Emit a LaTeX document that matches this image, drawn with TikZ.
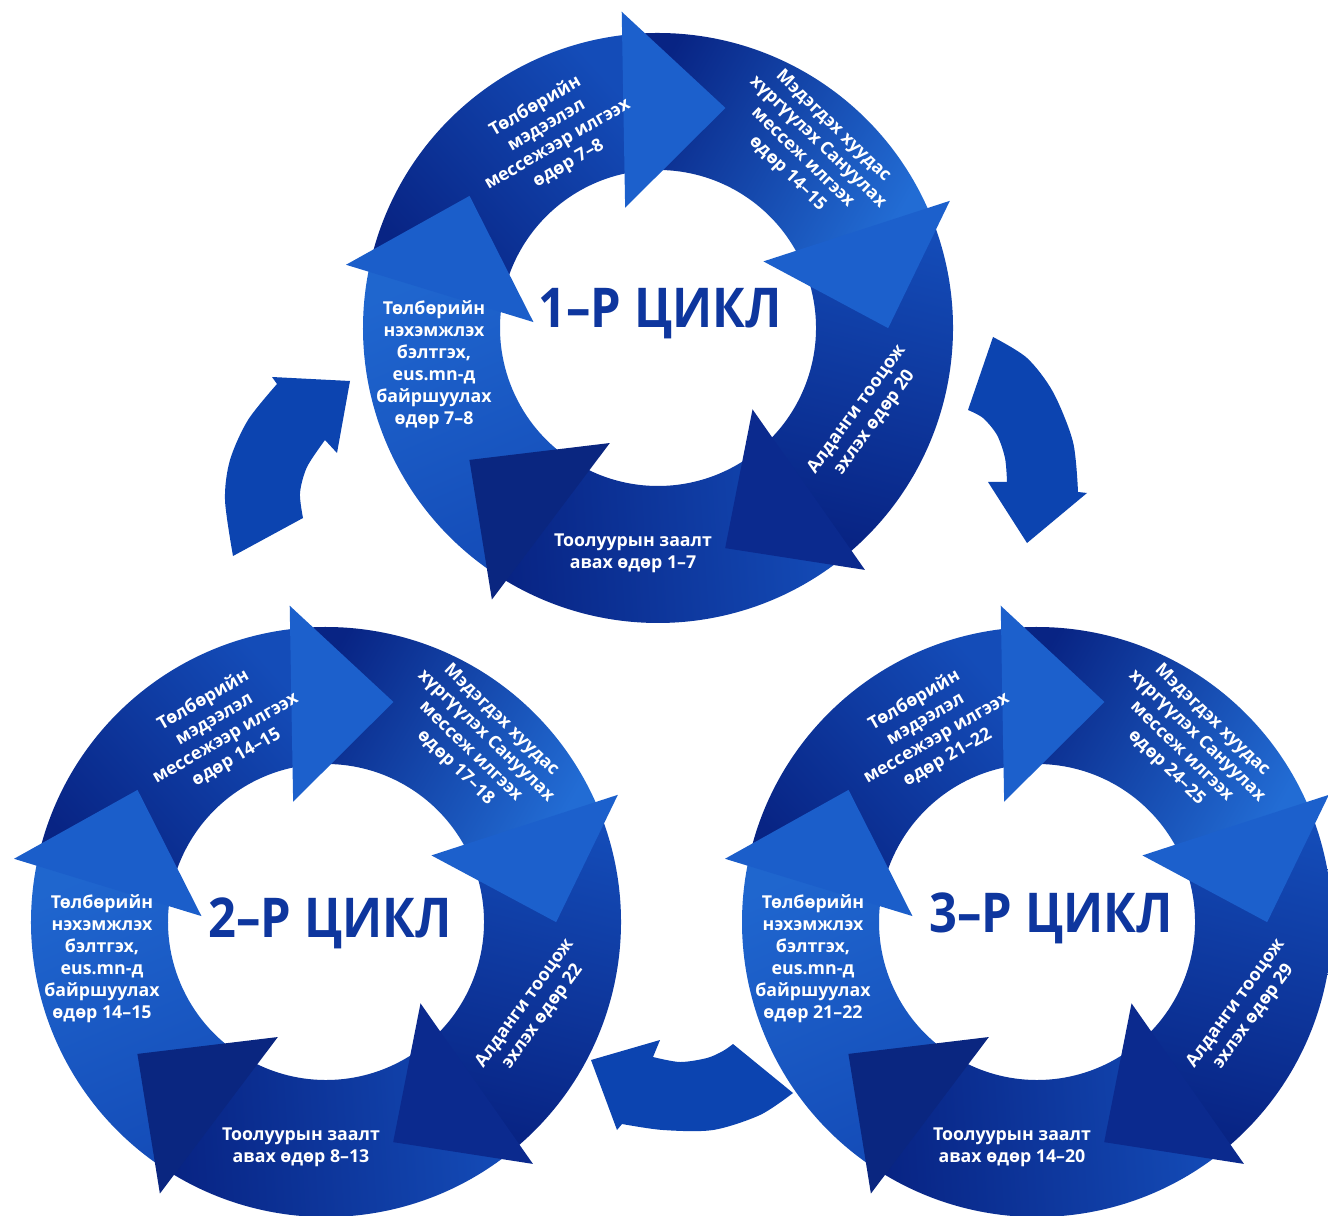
\documentclass[tikz,border=0pt]{standalone}
\usepackage{fontspec}
\setmainfont{Open Sans}
\definecolor{dk}{RGB}{8,36,132}
\definecolor{md}{RGB}{20,76,184}
\definecolor{lt}{RGB}{34,108,212}
\definecolor{hlt}{RGB}{28,96,204}
\definecolor{hdk}{RGB}{11,42,142}
\definecolor{titleblue}{RGB}{14,54,158}
\definecolor{connblue}{RGB}{12,68,176}
\tikzset{
  lbl/.style={text=white, font=\fontsize{5.05}{6.25}\selectfont\bfseries, align=center, inner sep=0pt},
  ttl/.style={text=titleblue, font=\fontsize{15.6}{17}\selectfont\bfseries, inner sep=0pt},
  conn/.style={fill=connblue},
}
% body band: start angle, end angle, tail colour, head colour, shading angle
\newcommand\ringbody[5]{%
  \shade[bottom color=#3, top color=#4, shading angle=#5]
    (#1:295) arc[start angle=#1, end angle=#2, radius=295]
    -- (#2:158) arc[start angle=#2, end angle=#1, radius=158] -- cycle;}
% arrow head: base angle, colour
\newcommand\ringhead[2]{%
  \begin{scope}[shift={(#1:221)}, rotate={#1-98}]
    \fill[#2] (0,98) -- (102,0) -- (0,-98) -- cycle;
  \end{scope}}
% whole cycle: cx, cy, id, d1, d2, d3, d4, d5
\newcommand\cyc[8]{%
  \begin{scope}[shift={(#1,#2)}]
    \ringbody{168}{96}{dk}{md}{-48}
    \ringbody{96}{23}{dk}{lt}{-120}
    \ringbody{23}{-50}{md}{dk}{166}
    \ringbody{-50}{-122}{md}{dk}{94}
    \ringbody{238}{168}{md}{lt!80!md}{23}
    \ringhead{99}{hlt}
    \ringhead{26}{hlt}
    \ringhead{-47}{hdk}
    \ringhead{-119}{hdk!90!black}
    \ringhead{171}{hlt!90!md}
    \node[lbl, rotate=30] (c#3a) at (-106,193) {Төлбөрийн\\мэдээлэл\\мессежээр илгээх\\өдөр #4};
    \node[lbl, rotate=-44] (c#3b) at (152,178) {Мэдэгдэх хуудас\\хүргүүлэх Сануулах\\мессеж илгээх\\өдөр #5};
    \node[lbl, rotate=54] (c#3c) at (208,-88) {Алданги тооцож\\эхлэх өдөр #6};
    \node[lbl] (c#3d) at (-25,-225) {Тоолуурын заалт\\авах өдөр #7};
    \node[lbl] (c#3e) at (-224,-37) {Төлбөрийн\\нэхэмжлэх\\бэлтгэх,\\eus.mn-д\\байршуулах\\өдөр #8};
  \end{scope}}
\begin{document}
\begin{tikzpicture}[x=0.01cm, y=0.01cm]
\useasboundingbox (0,0) rectangle (1328,-1216);
\fill[white] (0,0) rectangle (1328,-1216);

\cyc{658}{-328}{1}{7–8}{14–15}{20}{1–7}{7–8}
\cyc{326}{-922}{2}{14–15}{17–18}{22}{8–13}{14–15}
\cyc{1037}{-922}{3}{21–22}{24–25}{29}{14–20}{21–22}

\node[ttl] (t1) at (660,-314) {\scalebox{0.89}[1]{1–Р ЦИКЛ}};
\node[ttl] (t2) at (330,-923) {\scalebox{0.89}[1]{2–Р ЦИКЛ}};
\node[ttl] (t3) at (1051,-918) {\scalebox{0.89}[1]{3–Р ЦИКЛ}};

% connector arrow: cycle 2 -> cycle 1
\fill[conn] (272,-377) -- (350,-381) -- (337,-453) -- (325,-440)
  -- plot[smooth] coordinates {(325,-440) (307,-467) (300,-493) (303,-518)}
  -- (233,-556)
  -- plot[smooth] coordinates {(233,-556) (225,-500) (230,-460) (248,-420) (277,-384)}
  -- cycle;
% connector arrow: cycle 1 -> cycle 3
\fill[conn] (993,-337)
  -- plot[smooth] coordinates {(993,-337) (1027,-358) (1053,-392) (1073,-442) (1078,-492)}
  -- (1087,-493) -- (1027,-543) -- (988,-482) -- (1007,-482)
  -- plot[smooth] coordinates {(1007,-482) (1005,-458) (997,-435) (983,-418) (968,-410)}
  -- cycle;
% connector arrow: cycle 3 -> cycle 2
\fill[conn] (733,-1044) -- (793,-1093)
  -- plot[smooth] coordinates {(793,-1093) (760,-1115) (713,-1130) (663,-1130) (622,-1124)}
  -- (617,-1130) -- (591,-1060) -- (660,-1040) -- (653,-1057)
  -- plot[smooth] coordinates {(653,-1057) (680,-1062) (707,-1058) (723,-1051) (733,-1044)}
  -- cycle;
\end{tikzpicture}
\end{document}
